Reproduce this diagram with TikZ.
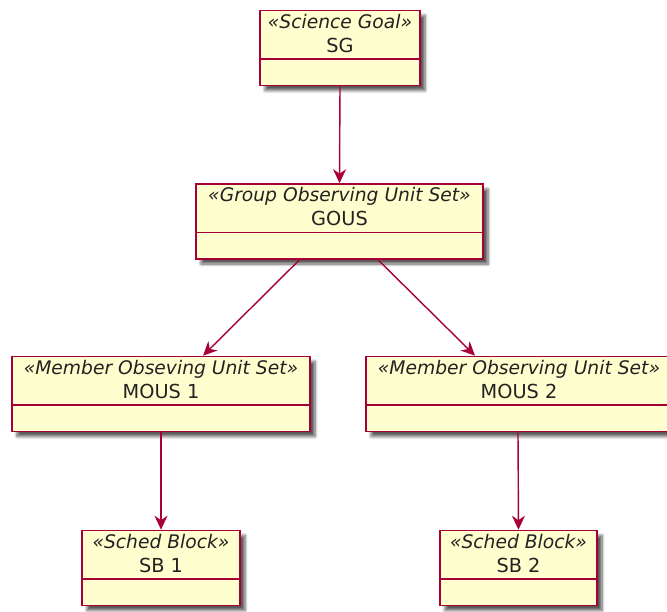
\documentclass[tikz,border=0pt]{standalone}
\usepackage{fontspec}
\setmainfont{DejaVu Sans}
\usetikzlibrary{arrows.meta,shadows.blur,calc}
\definecolor{umlfill}{HTML}{FEFECE}
\definecolor{umlline}{HTML}{A80036}
\definecolor{umltext}{HTML}{222222}
\tikzset{
  x=1pt, y=-1pt,
  objbox/.style={rectangle, draw=umlline, fill=umlfill, line width=1.6pt,
    minimum height=75pt, inner sep=0pt,
    blur shadow={shadow xshift=5pt, shadow yshift=-5pt, shadow blur steps=6,
      shadow blur radius=3pt, shadow opacity=65}},
  stereo/.style={anchor=base, inner sep=0pt, text=umltext,
    font=\fontsize{18.7}{22}\selectfont\itshape},
  objname/.style={anchor=base, inner sep=0pt, text=umltext,
    font=\fontsize{19.3}{22}\selectfont},
  divider/.style={draw=umlline, line width=1.6pt},
  link/.style={draw=umlline, line width=1.4pt,
    -{Stealth[length=14pt, width=13pt, inset=4.5pt]}}
}
% \umlobject{name}{cx}{cy}{width}{stereotype}{title}
\newcommand{\umlobject}[6]{%
  \node[objbox, minimum width=#4pt] (#1) at (#2,#3) {};
  \node[stereo] (#1-st) at ($(#1.north)+(0,18.5)$) {«#5»};
  \node[objname] (#1-nm) at ($(#1.north)+(0,42.5)$) {#6};
  \draw[divider] ($(#1.north west)+(0,49.5)$) -- ($(#1.north east)+(0,49.5)$);
}
\begin{document}
\begin{tikzpicture}
\useasboundingbox (0,0) rectangle (667,612);

\umlobject{sg}{340}{48}{160}{Science Goal}{SG}
\umlobject{gous}{339.5}{221.5}{287}{Group Observing Unit Set}{GOUS}
\umlobject{mous1}{161}{394}{298}{Member Obseving Unit Set}{MOUS 1}
\umlobject{mous2}{519}{394}{306}{Member Observing Unit Set}{MOUS 2}
\umlobject{sb1}{161}{568}{158}{Sched Block}{SB 1}
\umlobject{sb2}{518.5}{568}{157}{Sched Block}{SB 2}

\draw[link] (sg.south) -- (gous.north);
\draw[link] ($(gous.south)+(-40,0)$) -- ($(mous1.north)+(42,0)$);
\draw[link] ($(gous.south)+(38.5,0)$) -- ($(mous2.north)+(-44,0)$);
\draw[link] (mous1.south) -- (sb1.north);
\draw[link] ($(mous2.south)+(-1,0)$) -- (sb2.north);
\end{tikzpicture}
\end{document}
